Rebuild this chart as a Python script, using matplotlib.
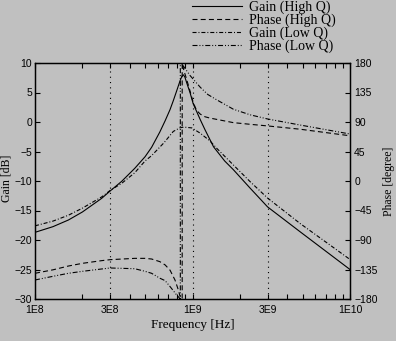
import matplotlib
matplotlib.use("Agg")
import matplotlib.pyplot as plt
from matplotlib.ticker import FixedLocator, FixedFormatter, MultipleLocator, NullFormatter

# ---- data -------------------------------------------------------------
freq_gain_hq = [1.0e8, 1.3e8, 1.63e8, 2.0e8, 2.65e8, 3.0e8, 3.55e8, 4.3e8, 5.0e8,
                5.5e8, 6.2e8, 6.7e8, 7.2e8, 7.55e8, 7.94e8, 8.34e8, 8.58e8, 8.75e8,
                8.95e8, 9.2e8, 9.64e8, 1.01e9, 1.12e9, 1.2e9, 1.36e9, 1.6e9,
                1.82e9, 2.32e9, 3.0e9, 4.82e9, 1.0e10]
gain_hq = [-18.7, -17.74, -16.61, -15.25, -12.94, -11.69, -10.06, -7.85, -5.88,
           -4.29, -1.7, 0.2, 2.1, 3.6, 5.3, 7.0, 7.8, 8.0,
           7.6, 6.6, 5.0, 3.1, 0.4, -1.3, -4.2, -6.6,
           -8.1, -11.2, -14.4, -18.6, -25.0]

freq_phase_hq = [1.0e8, 1.3e8, 1.63e8, 2.0e8, 2.65e8, 3.0e8, 4.3e8, 5.0e8, 5.5e8,
                 6.2e8, 6.7e8, 7.2e8, 7.74e8, 8.1e8, 8.34e8, 8.6e8, 8.6e8, 8.83e8,
                 9.1e8, 9.55e8, 1.01e9, 1.06e9, 1.12e9, 1.2e9, 1.29e9, 1.82e9,
                 2.32e9, 3.0e9, 4.82e9, 1.0e10]
phase_hq = [-140.8, -135.5, -129.7, -125.6, -121.5, -120.0, -118.0, -118.0, -119.0,
            -123.0, -128.0, -136.0, -151.0, -165.0, -176.0, -180.0, 180.0, 168.0,
            158.0, 141.0, 120.0, 108.0, 102.0, 98.0, 96.0, 89.0,
            86.5, 84.0, 79.0, 69.0]

freq_gain_lq = [1.0e8, 1.3e8, 1.63e8, 2.0e8, 2.65e8, 3.0e8, 3.55e8, 4.3e8, 5.0e8,
                5.5e8, 6.6e8, 7.55e8, 8.3e8, 8.66e8, 9.1e8, 9.9e8, 1.12e9, 1.29e9,
                1.43e9, 1.82e9, 2.32e9, 3.0e9, 4.82e9, 1.0e10]
gain_lq = [-17.6, -16.8, -15.8, -14.6, -12.7, -11.6, -10.4, -8.6, -6.6,
           -5.7, -3.5, -1.6, -1.0, -0.9, -0.9, -1.0, -1.9, -3.2,
           -4.5, -7.3, -10.1, -12.9, -17.2, -23.3]

freq_phase_lq = [1.0e8, 1.3e8, 1.63e8, 2.0e8, 2.65e8, 3.0e8, 4.3e8, 5.0e8, 5.5e8,
                 6.22e8, 6.7e8, 7.2e8, 7.94e8, 8.37e8, 8.37e8, 8.83e8, 9.64e8,
                 1.12e9, 1.25e9, 1.43e9, 1.82e9, 2.32e9, 3.0e9, 4.82e9, 1.0e10]
phase_lq = [-151.0, -145.4, -140.8, -137.8, -134.2, -132.7, -133.8, -137.8, -140.8,
            -148.4, -152.0, -161.0, -174.0, -180.0, 180.0, 174.0, 161.0,
            143.0, 132.0, 123.6, 109.4, 101.0, 94.6, 85.4, 71.7]

freq_ticks = [1e8, 3e8, 1e9, 3e9, 1e10]
freq_tick_labels = ["1E8", "3E8", "1E9", "3E9", "1E10"]
grid_freqs = [3e8, 1e9, 3e9]

# ---- style ------------------------------------------------------------
BG = "#c0c0c0"
SANS = "Liberation Sans"
SERIF = "Liberation Serif"
plt.rcParams["font.family"] = SANS
plt.rcParams["lines.scale_dashes"] = False

fig = plt.figure(figsize=(3.96, 3.41), dpi=100, facecolor=BG)
ax = fig.add_axes([35 / 396, 42 / 341, 315 / 396, 236 / 341], facecolor=BG)
ax2 = ax.twinx()

lw = 0.8
l1, = ax.plot(freq_gain_hq, gain_hq, color="black", lw=lw, ls="-")
l2, = ax2.plot(freq_phase_hq, phase_hq, color="black", lw=lw,
               dashes=(3.6, 2.3))
l3, = ax.plot(freq_gain_lq, gain_lq, color="black", lw=lw,
              dashes=(2.9, 1.4, 0.7, 1.4))
l4, = ax2.plot(freq_phase_lq, phase_lq, color="black", lw=lw,
               dashes=(3.6, 1.4, 0.7, 1.4, 0.7, 1.4))

ax.set_xscale("log")
ax.set_xlim(1e8, 1e10)
ax.set_ylim(-30, 10)
ax2.set_ylim(-180, 180)

for f in grid_freqs:
    ax.axvline(f, color="black", lw=0.8, dashes=(0.8, 3.0))

ax.xaxis.set_major_locator(FixedLocator(freq_ticks))
ax.xaxis.set_major_formatter(FixedFormatter(freq_tick_labels))
ax.xaxis.set_minor_locator(FixedLocator(
    [m * 10 ** e for e in (8, 9) for m in (2, 4, 5, 6, 7, 8, 9)]))
ax.xaxis.set_minor_formatter(NullFormatter())
ax.yaxis.set_major_locator(MultipleLocator(5))
ax2.yaxis.set_major_locator(MultipleLocator(45))

ax.tick_params(axis="both", which="both", direction="in", top=True, right=False,
               labelsize=7.5, width=0.8)
ax.tick_params(axis="both", which="major", length=3.6)
ax.tick_params(axis="x", which="minor", length=3.3)
ax.tick_params(axis="x", pad=4)
ax.tick_params(axis="y", pad=2)
ax2.tick_params(axis="y", direction="in", length=3.6, width=0.8,
                labelsize=7.5, pad=3)

for a in (ax, ax2):
    for s in a.spines.values():
        s.set_linewidth(0.9)

ax.set_xlabel("Frequency [Hz]", family=SERIF, fontsize=9.5, labelpad=3)
fig.text(7 / 396, 1 - 178 / 341, "Gain [dB]", family=SERIF, fontsize=8.5,
         rotation=90, ha="center", va="center")
fig.text(389 / 396, 1 - 181 / 341, "Phase [degree]", family=SERIF, fontsize=8.5,
         rotation=90, ha="center", va="center")

fig.legend([l1, l2, l3, l4],
           ["Gain (High Q)", "Phase (High Q)", "Gain (Low Q)", "Phase (Low Q)"],
           loc="upper left", bbox_to_anchor=(191 / 396, 1.0),
           frameon=False, prop={"family": SERIF, "size": 10},
           handlelength=3.6, handletextpad=0.5, labelspacing=-0.05,
           borderaxespad=0, borderpad=0.05)

fig.savefig("out.png", dpi=100, facecolor=BG)
